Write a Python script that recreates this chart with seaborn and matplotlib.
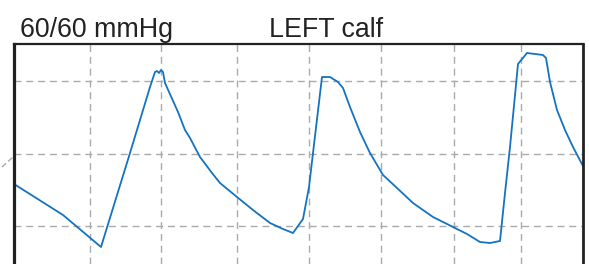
import matplotlib
matplotlib.use("Agg")
import matplotlib.pyplot as plt
import seaborn as sns
import pandas as pd
from matplotlib.lines import Line2D

# Trace of the pulse volume recording (x: time units, y: amplitude units)
t = [14, 63, 101, 130, 150, 155, 157, 159, 161, 163, 165, 178, 185, 190,
     200, 212, 220, 237, 253, 270, 283, 293, 303, 309, 313, 322, 330, 338,
     343, 350, 360, 370, 383, 397, 413, 433, 453, 467, 480, 490, 500, 505,
     510, 518, 527, 543, 546, 550, 557, 565, 573, 583]
py = [184, 215, 247, 153, 87, 72, 71, 73, 70, 72, 83, 112, 130, 138,
      157, 173, 183, 197, 210, 223, 229, 233, 219, 187, 153, 77, 77, 82,
      88, 107, 132, 153, 175, 188, 203, 217, 227, 234, 242, 243, 241, 193,
      147, 64, 53, 55, 58, 82, 110, 130, 147, 166]
amp = [264 - v for v in py]

x_ticks = [90, 161, 237, 309, 381, 454, 521]
y_ticks = [38, 110, 183]
title_left = "60/60 mmHg"
title_center = "LEFT calf"

df = pd.DataFrame({"t": t, "amp": amp})

sns.set_style("white")
plt.rcParams["font.family"] = ["Liberation Sans", "DejaVu Sans"]

fig = plt.figure(figsize=(5.89, 2.64), dpi=100)
ax = fig.add_axes([14 / 589, 0, 569 / 589, 220 / 264])

sns.lineplot(data=df, x="t", y="amp", ax=ax, color="#1473c1", linewidth=1.3,
             sort=False, estimator=None)

ax.set_xlim(14, 583)
ax.set_ylim(0, 220)
ax.set_xticks(x_ticks)
ax.set_yticks(y_ticks)
ax.set_xticklabels([])
ax.set_yticklabels([])
ax.tick_params(length=0)
ax.set_xlabel("")
ax.set_ylabel("")
ax.grid(True, color="#aaaaaa", linestyle=(0, (5, 3.5)), linewidth=1.0)

ax.spines["bottom"].set_visible(False)
ax.spines["left"].set_linewidth(2.3)
ax.spines["right"].set_linewidth(2.0)
ax.spines["top"].set_linewidth(1.6)
for s in ("left", "right", "top"):
    ax.spines[s].set_color("#222222")

fig.text(20 / 589, 1 - 37 / 264, title_left, fontsize=19.3, color="#222222",
         ha="left", va="baseline")
fig.text(326 / 589, 1 - 37 / 264, title_center, fontsize=19.3, color="#222222",
         ha="center", va="baseline")

fig.add_artist(Line2D([2 / 589, 13 / 589], [1 - 167 / 264, 1 - 157 / 264],
                      color="#aaaaaa", linewidth=1.0, linestyle=(0, (4, 2)),
                      transform=fig.transFigure))

fig.savefig("out.png", dpi=100)
